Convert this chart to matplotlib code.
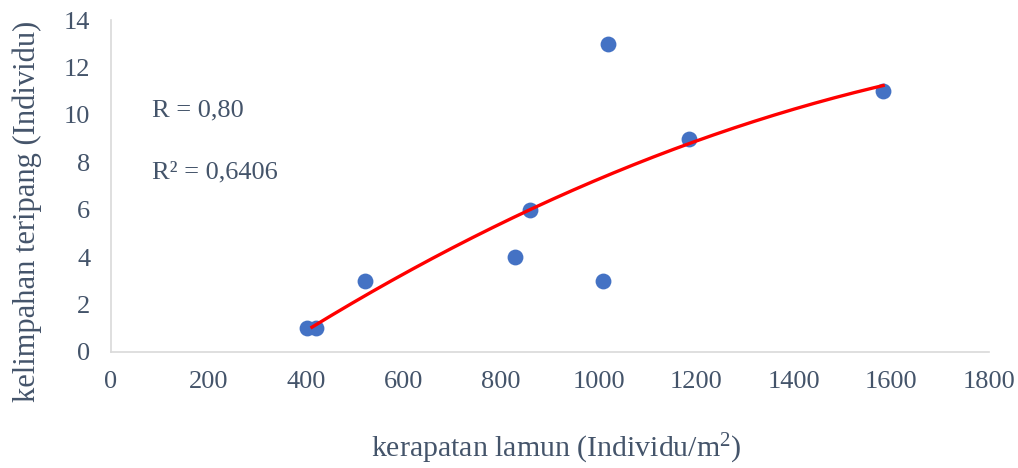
import numpy as np
import matplotlib.pyplot as plt

# kerapatan lamun vs kelimpahan teripang
kerapatan = [402, 420, 521, 828, 859, 1009, 1019, 1185, 1583]
kelimpahan = [1, 1, 3, 4, 6, 3, 13, 9, 11]
xticks = [0, 200, 400, 600, 800, 1000, 1200, 1400, 1600, 1800]
yticks = [0, 2, 4, 6, 8, 10, 12, 14]

TXT = '#44546A'
plt.rcParams['font.family'] = ['Liberation Serif', 'DejaVu Serif']

fig = plt.figure(figsize=(10.18, 4.68), dpi=100)
ax = fig.add_axes([111/1018, 1 - 352/468, 878/1018, 332/468])

ax.scatter(kerapatan, kelimpahan, s=130, color='#4472C4', zorder=3, linewidths=0)

# polynomial (order 2) trendline like excel
coef = np.polyfit(kerapatan, kelimpahan, 2)
xs = np.linspace(min(kerapatan) + 10, max(kerapatan), 200)
ax.plot(xs, np.polyval(coef, xs), color='red', lw=2.4, zorder=4)

ax.set_xlim(0, 1800)
ax.set_ylim(0, 14)
ax.set_xticks(xticks)
ax.set_yticks(yticks)
ax.tick_params(length=0, labelsize=19, labelcolor=TXT)
ax.tick_params(axis='y', pad=15)
ax.tick_params(axis='x', pad=14)

for s in ['top', 'right']:
    ax.spines[s].set_visible(False)
for s in ['left', 'bottom']:
    ax.spines[s].set_color('#D9D9D9')
    ax.spines[s].set_linewidth(1.2)

# axis titles placed like the excel chart
fig.text(556/1018, 1 - 449/468, 'kerapatan lamun (Individu/m$\\mathregular{^2}$)',
         fontsize=21.5, color=TXT, ha='center', va='center')
fig.text(27/1018, 1 - 211/468, 'kelimpahan teripang (Individu)', fontsize=22,
         color=TXT, ha='center', va='center', rotation=90)

fig.text(152/1018, 1 - 110/468, 'R = 0,80', fontsize=19, color=TXT, va='center')
fig.text(152/1018, 1 - 172/468, 'R² = 0,6406', fontsize=19, color=TXT, va='center')

fig.savefig('out.png', dpi=100)
